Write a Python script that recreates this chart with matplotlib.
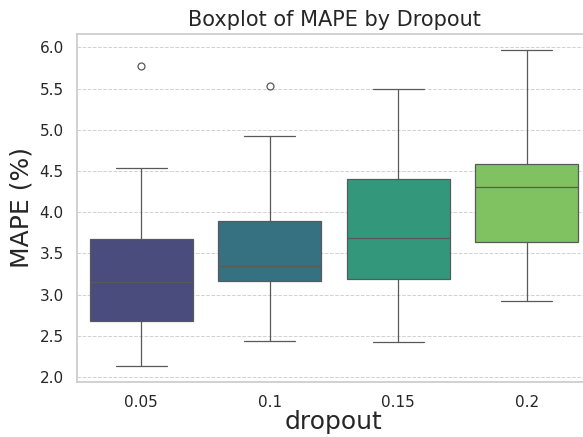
import numpy as np
import matplotlib
matplotlib.use("Agg")
import matplotlib.pyplot as plt
import seaborn as sns

# values
dropout = ["0.05", "0.1", "0.15", "0.2"]
whislo = [2.13, 2.43, 2.42, 2.92]
q1 = [2.68, 3.16, 3.19, 3.64]
med = [3.15, 3.35, 3.68, 4.30]
q3 = [3.67, 3.89, 4.40, 4.58]
whishi = [4.53, 4.93, 5.50, 5.97]
fliers = [[5.77], [5.53], [], []]

sns.set_theme(style="whitegrid")
plt.rcParams['font.family'] = ['DejaVu Sans']

colors = sns.color_palette("viridis", len(dropout), desat=0.75)
line_c = '.35'
lw = 0.9

stats = []
for i in range(len(dropout)):
    stats.append(dict(whislo=whislo[i], q1=q1[i], med=med[i], q3=q3[i],
                      whishi=whishi[i], fliers=fliers[i], label=dropout[i]))

fig = plt.figure(figsize=(5.83, 4.37), dpi=100)
ax = fig.add_axes([77 / 583, 1 - 382 / 437, 514 / 583, (382 - 34) / 437])

bp = ax.bxp(stats, positions=np.arange(len(dropout)), widths=0.8,
            patch_artist=True, capwidths=0.4,
            boxprops=dict(edgecolor=line_c, linewidth=lw),
            whiskerprops=dict(color=line_c, linewidth=lw),
            capprops=dict(color=line_c, linewidth=lw),
            medianprops=dict(color=line_c, linewidth=lw),
            flierprops=dict(marker='o', markerfacecolor='none',
                            markeredgecolor=line_c, markeredgewidth=lw,
                            markersize=5, linewidth=0))
for patch, c in zip(bp['boxes'], colors):
    patch.set_facecolor(c)

ax.set_xlim(-0.5, len(dropout) - 0.5)
ax.xaxis.grid(False)
ax.yaxis.grid(True, linestyle='--', color='.82', linewidth=0.7)
ax.set_axisbelow(True)
ax.tick_params(axis='both', labelsize=11, labelcolor='.15')

ax.set_title("Boxplot of MAPE by Dropout", fontsize=15)
ax.set_xlabel("dropout", fontsize=18, labelpad=0)
ax.set_ylabel("MAPE (%)", fontsize=18)

fig.savefig("out.png", dpi=100)
